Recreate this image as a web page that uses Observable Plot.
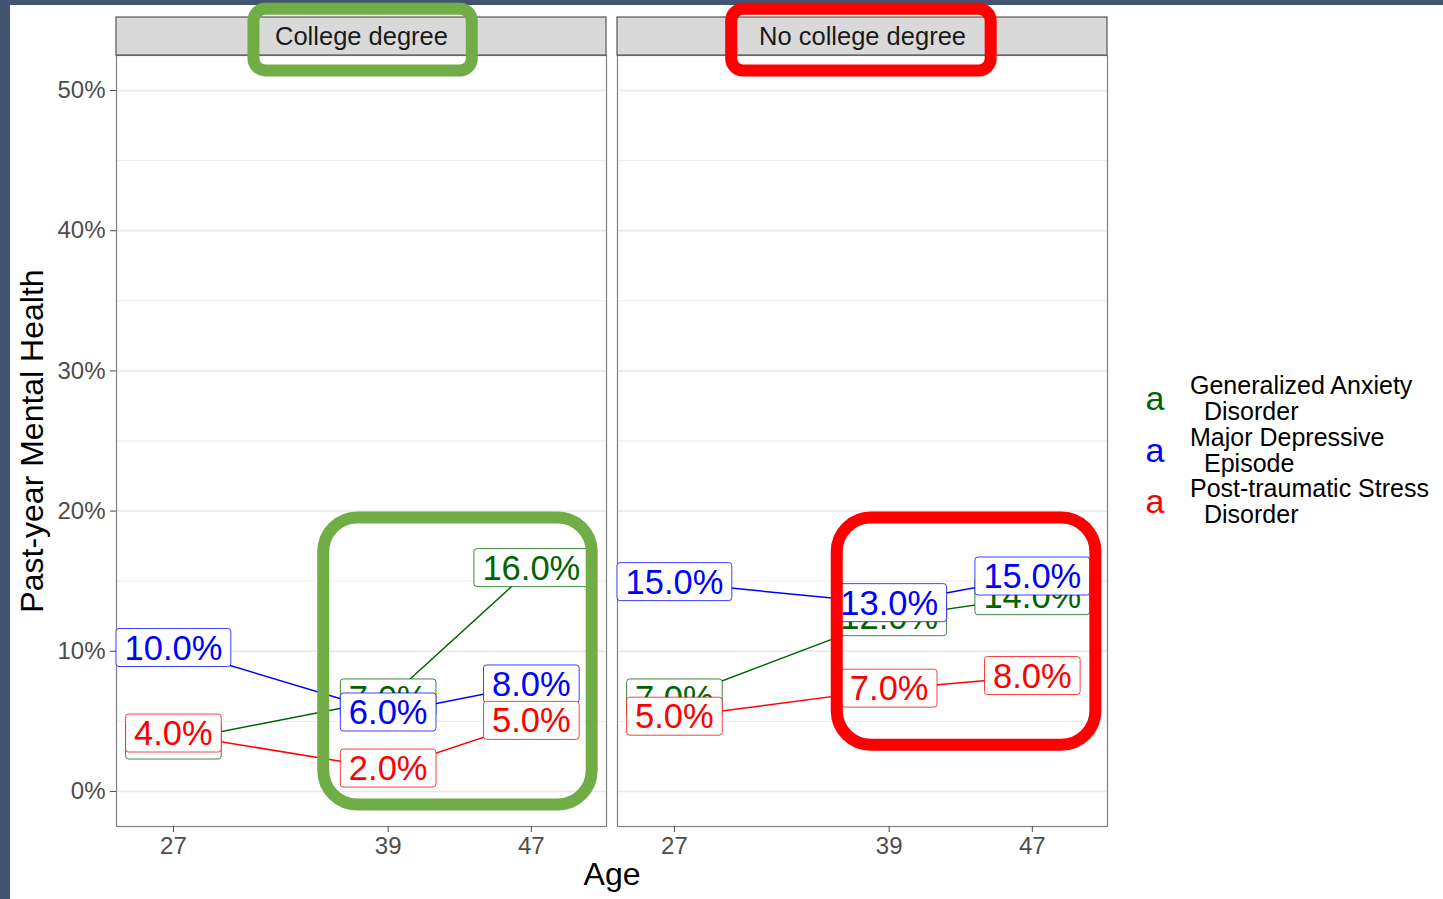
<!DOCTYPE html>
<html><head><meta charset="utf-8">
<script src="https://cdn.jsdelivr.net/npm/d3@7"></script>
<script src="https://cdn.jsdelivr.net/npm/@observablehq/plot@0.6"></script>
<style>
html,body{margin:0;padding:0;background:#435470;width:1443px;height:899px;overflow:hidden;}
#wrap{position:absolute;left:10px;top:5px;width:1433px;height:894px;background:#fff;font-family:"Liberation Sans",Arial,Helvetica,sans-serif;}
#chart{position:absolute;left:0;top:0;}
#chart svg{overflow:visible;}
.ttl{position:absolute;font-size:32px;line-height:32px;color:#000;white-space:nowrap;text-align:center;}
#legend{position:absolute;left:0;top:367px;width:1433px;}
.item{position:relative;height:51.5px;}
.key{position:absolute;left:1133px;width:24px;text-align:center;font-size:34px;line-height:52px;top:0;}
.lab{position:absolute;left:1180px;top:0;font-size:25px;line-height:26px;color:#000;white-space:nowrap;}
.lab span{display:block;}
.lab span.l2{padding-left:14px;}
</style></head>
<body><div id="wrap"><div id="chart"></div><div id="legend"></div>
<div class="ttl" style="left:552px;top:853px;width:100px;">Age</div>
<div class="ttl" style="left:-178px;top:420px;width:400px;height:32px;transform:rotate(-90deg);">Past-year Mental Health</div>
</div>
<script>
// ---- data ----
const ages = [27, 39, 47];
const education = ["College degree", "No college degree"];
const disorders = ["Generalized Anxiety Disorder", "Major Depressive Episode", "Post-traumatic Stress Disorder"];
const colors = ["#006400", "#0000ff", "#ff0000"];
const gadCollege = [3.6, 6.6, 15.9];
const mdeCollege = [10.2, 5.6, 7.6];
const ptsdCollege = [4.1, 1.6, 5.0];
const gadNoCollege = [6.6, 12.4, 13.9];
const mdeNoCollege = [14.9, 13.4, 15.3];
const ptsdNoCollege = [5.3, 7.3, 8.2];
const yTicks = [0, 10, 20, 30, 40, 50];
const yMinor = [5, 15, 25, 35, 45];
const yDomain = [-2.5, 52.5];
const xDomain = [23.82, 51.2];
// highlight annotations (data units, per panel)
const headerBoxes = [
  {edu: "College degree", x1: 31.5, x2: 43.7, y1: 51.4, y2: 55.8, color: "#70ad47"},
  {edu: "No college degree", x1: 30.2, x2: 44.7, y1: 51.4, y2: 55.8, color: "#ff0000"}
];
const regionBoxes = [
  {edu: "College degree", x1: 35.4, x2: 50.4, y1: -0.96, y2: 19.5, color: "#70ad47"},
  {edu: "No college degree", x1: 36.1, x2: 50.55, y1: 3.3, y2: 19.5, color: "#ff0000"}
];

const series = {
  "College degree": [gadCollege, mdeCollege, ptsdCollege],
  "No college degree": [gadNoCollege, mdeNoCollege, ptsdNoCollege]
};
const rows = [];
disorders.forEach((d, i) => {
  education.forEach(e => {
    ages.forEach((a, j) => rows.push({disorder: d, edu: e, age: a, value: series[e][i][j]}));
  });
});

const chart = Plot.plot({
  width: 1433, height: 894,
  marginLeft: 106, marginRight: 335, marginTop: 50, marginBottom: 73,
  style: {fontFamily: '"Liberation Sans", Arial, Helvetica, sans-serif', background: "transparent", overflow: "visible"},
  x: {domain: xDomain, label: null},
  y: {domain: yDomain, label: null},
  fx: {domain: education, axis: null, paddingInner: 0.021, paddingOuter: 0, label: null},
  color: {domain: disorders, range: colors},
  marks: [
    Plot.ruleY(yMinor, {stroke: "#ebebeb", strokeWidth: 1}),
    Plot.ruleY(yTicks, {stroke: "#ebebeb", strokeWidth: 1.8}),
    Plot.frame({stroke: "#808080", strokeWidth: 1.2}),
    Plot.rect(education, {fx: d => d, y1: yDomain[1], y2: yDomain[1], insetTop: -38, fill: "#d9d9d9", stroke: "#555", strokeWidth: 1.2}),
    Plot.text(education, {fx: d => d, text: d => d, frameAnchor: "top", lineAnchor: "middle", dy: -19, fontSize: 25.5, fill: "#1a1a1a"}),
    Plot.axisY(yTicks, {tickFormat: d => d + "%", fontSize: 24, color: "#4d4d4d", tickSize: 6, tickPadding: 5, label: null}),
    Plot.axisX(ages, {fontSize: 24, color: "#4d4d4d", tickSize: 6, tickPadding: 4, label: null}),
    Plot.line(rows, {x: "age", y: "value", z: "disorder", stroke: "disorder", fx: "edu", strokeWidth: 1.5}),
    Plot.text(rows, {x: "age", y: "value", fx: "edu", text: d => Math.round(d.value).toFixed(1) + "%", fill: "disorder", fontSize: 34.5, ariaDescription: "value-label"}),
    Plot.rect(headerBoxes, {fx: "edu", x1: "x1", x2: "x2", y1: "y1", y2: "y2", stroke: d => d.color, fill: "none", strokeWidth: 12, rx: 12}),
    Plot.rect(regionBoxes, {fx: "edu", x1: "x1", x2: "x2", y1: "y1", y2: "y2", stroke: d => d.color, fill: "none", strokeWidth: 12, rx: 34})
  ]
});
document.getElementById("chart").appendChild(chart);

// legend
const legend = document.getElementById("legend");
disorders.forEach((d, i) => {
  const cut = d.lastIndexOf(" ");
  const item = document.createElement("div");
  item.className = "item";
  item.innerHTML = `<div class="key" style="color:${colors[i]}">a</div><div class="lab"><span>${d.slice(0, cut)}</span><span class="l2">${d.slice(cut + 1)}</span></div>`;
  legend.appendChild(item);
});

// white boxes behind value labels (like geom_label)
const NS = "http://www.w3.org/2000/svg";
chart.querySelectorAll('g[aria-description="value-label"] text').forEach(t => {
  const b = t.getBBox();
  const cy = b.y + b.height / 2;
  const r = document.createElementNS(NS, "rect");
  r.setAttribute("x", b.x - 8.5);
  r.setAttribute("y", cy - 19);
  r.setAttribute("width", b.width + 17);
  r.setAttribute("height", 38);
  r.setAttribute("rx", 3);
  r.setAttribute("fill", "white");
  const c = t.getAttribute("fill") || t.parentNode.getAttribute("fill") || "black";
  r.setAttribute("stroke", c);
  r.setAttribute("stroke-opacity", 0.75);
  r.setAttribute("stroke-width", 1);
  if (t.getAttribute("transform")) r.setAttribute("transform", t.getAttribute("transform"));
  t.parentNode.insertBefore(r, t);
});
</script>
</body></html>
